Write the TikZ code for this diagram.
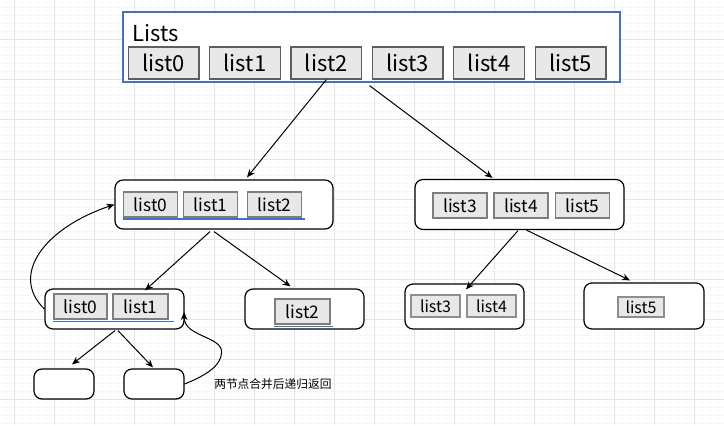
\documentclass[tikz,border=0pt]{standalone}
\usepackage{fontspec}
\setmainfont{Noto Sans CJK SC}
\usepackage{tikz}
\usetikzlibrary{
  arrows.meta,
  calc,
  positioning
}
\usepackage{xcolor}
\definecolor{gridmajor}{HTML}{E4E4E4}
\definecolor{gridminor}{HTML}{F7F7F7}
\definecolor{cellfill}{HTML}{E8E8E8}
\definecolor{celldraw}{HTML}{5E5E5E}
\definecolor{listsblue}{HTML}{4A6FB5}
\definecolor{lineblue}{HTML}{4472C4}

\begin{document}
\begin{tikzpicture}[
  x=0.75pt, y=-0.75pt,
  cell/.style={rectangle, draw=celldraw, fill=cellfill, line width=1pt, inner sep=0pt, minimum width=53pt, minimum height=24pt, font=\fontsize{16.5}{18}\selectfont},
  cellmid/.style={cell, draw=celldraw!80, minimum width=40.5pt, minimum height=18.75pt, font=\fontsize{13}{15}\selectfont},
  cellsm/.style={cell, draw=celldraw!70, minimum width=36.75pt, minimum height=16.5pt, font=\fontsize{12}{14}\selectfont},
  group/.style={rectangle, draw, fill=white, rounded corners=6pt, line width=0.9pt, inner sep=0pt},
  underline/.style={draw=lineblue, line width=0.8pt},
  arrow/.style={-{Stealth[length=6pt, width=5pt]}, line width=0.75pt},
]
\useasboundingbox (0,0) rectangle (724,425);

% Grid
\fill[white] (0,0) rectangle (724,425);
\foreach \gx in {6,14,...,722} \draw[gridminor, line width=0.5pt] (\gx,0) -- (\gx,425);
\foreach \gy in {7,15,...,423} \draw[gridminor, line width=0.5pt] (0,\gy) -- (724,\gy);
\foreach \gx in {14,54,...,694} \draw[gridmajor, line width=0.75pt] (\gx,0) -- (\gx,425);
\foreach \gy in {39,79,...,399} \draw[gridmajor, line width=0.75pt] (0,\gy) -- (724,\gy);

% Lists
\node[draw=listsblue, fill=white, line width=0.9pt, minimum width=372.75pt, minimum height=52.5pt, inner sep=0pt] (lists) at (371.5, 47) {};
\node[anchor=west, inner sep=0pt, font=\fontsize{16.5}{18}\selectfont] (liststitle) at (132, 33) {Lists};
\foreach \i in {0,...,5}
  \node[cell] (top\i) at (163.5+81.4*\i, 63) {list\i};

% First split
\node[group, minimum width=163.5pt, minimum height=36.75pt] (midL) at (224, 204.5) {};
\node[cellmid] (mL0) at (150.5, 204.5) {list0};
\node[cellmid] (mL1) at (210.5, 204.5) {list1};
\node[cellmid] (mL2) at (274.5, 204.5) {list2};
\draw[underline] ([yshift=-1pt]mL0.south west) -- ([xshift=2pt, yshift=-1pt]mL2.south east);

\node[group, minimum width=156.75pt, minimum height=37.5pt] (midR) at (519.5, 204.5) {};
\node[cellmid] (mR3) at (460, 205.5) {list3};
\node[cellmid] (mR4) at (521, 205.5) {list4};
\node[cellmid] (mR5) at (582.5, 205.5) {list5};

% Second split
\node[group, minimum width=104.25pt, minimum height=30pt] (midLL) at (114.5, 309) {};
\node[cellmid, minimum width=39.75pt] (lL0) at (80.5, 306.5) {list0};
\node[cellmid, minimum width=41.25pt] (lL1) at (140.5, 306.5) {list1};
\draw[underline] ([yshift=-1.5pt]lL0.south west) -- ([xshift=4pt, yshift=-1.5pt]lL1.south east);

\node[group, minimum width=89.25pt, minimum height=30pt] (midLR) at (304.5, 309) {};
\node[cellmid, minimum width=41.25pt] (lR2) at (302.5, 311.5) {list2};
\draw[underline] ([yshift=-1.5pt]lR2.south west) -- ([xshift=1.5pt, yshift=-1.5pt]lR2.south east);

\node[group, minimum width=89.25pt, minimum height=33.75pt] (midRL) at (464.5, 306.5) {};
\node[cellsm] (rL3) at (435.5, 306) {list3};
\node[cellsm] (rL4) at (491.5, 306) {list4};

\node[group, minimum width=90pt, minimum height=34.5pt] (midRR) at (644, 306) {};
\node[cellsm, minimum width=34.5pt, minimum height=15pt] (rR5) at (641, 307) {list5};

% Leaves
\node[group, minimum width=45pt, minimum height=22.5pt] (bot1) at (64, 384) {};
\node[group, minimum width=45pt, minimum height=22.5pt] (bot2) at (154, 384) {};
\node[anchor=west, inner sep=0pt, font=\fontsize{8.8}{10}\selectfont] (note) at (214, 384) {两节点合并后递归返回};

% Arrows
\draw[arrow] (top2.south) -- ($(midL.north)+(23,-2)$);
\draw[arrow] ($(lists.south)+(-2,3)$) -- ($(midR.north)+(-27,-1)$);
\draw[arrow] ($(midL.south)+(-14,2)$) -- ($(midLL.north)+(30.5,2)$);
\draw[arrow] ($(midL.south)+(-10,2)$) -- ($(midLR.north)+(-14,-2)$);
\draw[arrow] ($(midR.south)+(-1.5,0.5)$) -- ($(midRL.north)+(1.5,6)$);
\draw[arrow] ($(midR.south)+(7,0)$) -- ($(midRR.north)+(-14,-2)$);
\draw[arrow] ($(midLL.south)+(0.5,1)$) -- ($(bot1.north)+(8,-4)$);
\draw[arrow] ($(midLL.south)+(3.5,1)$) -- ($(bot2.north)+(-1,-1)$);

% Merge back
\draw[arrow] (midLL.west) .. controls +(-35,-34) and +(-70,23.5) .. (midL.west);
\coordinate (turn) at ($(bot2.east)+(37,-32)$);
\draw[line width=0.75pt] (bot2.east) .. controls +(20,-8) and +(0,14) .. (turn);
\draw[arrow] (turn) .. controls +(0,-16) and +(0,25) .. ($(midLL.east)+(-0.5,3)$);
\end{tikzpicture}
\end{document}
